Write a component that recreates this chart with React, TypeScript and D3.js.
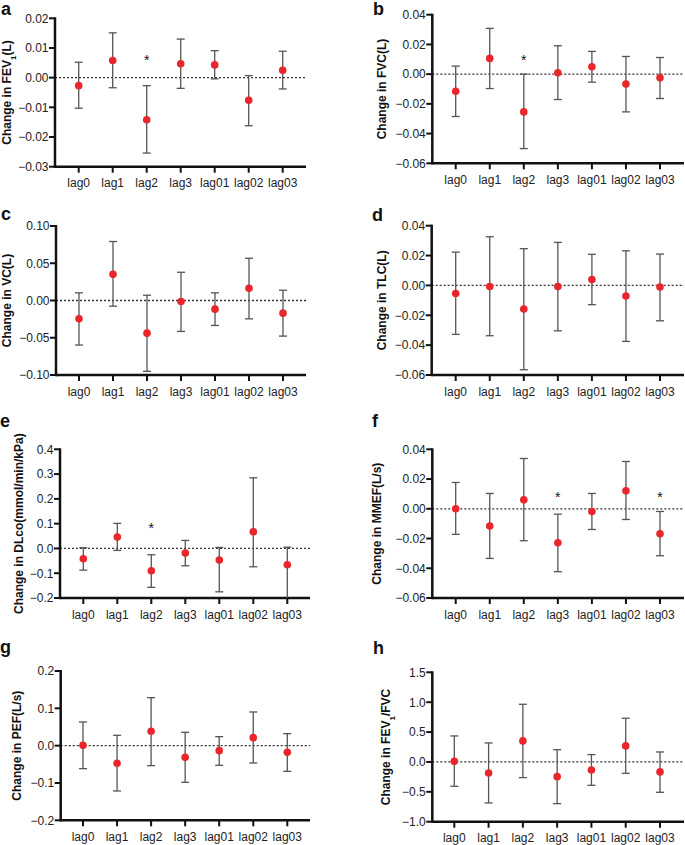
import React from "react";
import * as d3 from "d3";

const categories = ["lag0", "lag1", "lag2", "lag3", "lag01", "lag02", "lag03"];

// a: FEV1
const fev1Est = [-0.0027, 0.0058, -0.0142, 0.0047, 0.0043, -0.0076, 0.0025];
const fev1Lo = [-0.0103, -0.0034, -0.0254, -0.0036, -0.0004, -0.0162, -0.0038];
const fev1Hi = [0.0052, 0.0151, -0.0027, 0.013, 0.0091, 0.0007, 0.0089];
const fev1Stars = [null, null, 0.007, null, null, null, null];
const fev1Ticks = [-0.03, -0.02, -0.01, 0.0, 0.01, 0.02];

// b: FVC
const fvcEst = [-0.0115, 0.0106, -0.0254, 0.0009, 0.0049, -0.0067, -0.0025];
const fvcLo = [-0.0285, -0.0097, -0.0501, -0.0171, -0.0054, -0.0254, -0.0164];
const fvcHi = [0.0054, 0.0308, 0.0, 0.0191, 0.0153, 0.0119, 0.0112];
const fvcStars = [null, null, 0.0117, null, null, null, null];
const fvcTicks = [-0.06, -0.04, -0.02, 0.0, 0.02, 0.04];

// c: VC
const vcEst = [-0.0246, 0.0353, -0.0438, -0.0013, -0.0116, 0.0165, -0.017];
const vcLo = [-0.0598, -0.0076, -0.0951, -0.0415, -0.0335, -0.0246, -0.0478];
const vcHi = [0.0103, 0.0792, 0.0071, 0.0379, 0.0103, 0.0567, 0.0138];
const vcStars = [null, null, null, null, null, null, null];
const vcTicks = [-0.1, -0.05, 0.0, 0.05, 0.1];

// d: TLC
const tlcEst = [-0.0054, -0.0007, -0.0158, -0.0007, 0.004, -0.0071, -0.0011];
const tlcLo = [-0.0328, -0.0337, -0.0565, -0.0304, -0.0129, -0.0375, -0.0237];
const tlcHi = [0.0223, 0.0326, 0.0246, 0.0288, 0.0208, 0.0232, 0.021];
const tlcStars = [null, null, null, null, null, null, null];
const tlcTicks = [-0.06, -0.04, -0.02, 0.0, 0.02, 0.04];

// e: DLco
const dlcoEst = [-0.0417, 0.0458, -0.09, -0.0188, -0.0471, 0.0673, -0.066];
const dlcoLo = [-0.0875, -0.008, -0.157, -0.07, -0.175, -0.074, -0.23];
const dlcoHi = [0.003, 0.101, -0.0256, 0.0323, 0.004, 0.285, 0.005];
const dlcoStars = [null, null, 0.093, null, null, null, null];
const dlcoTicks = [-0.2, -0.1, 0.0, 0.1, 0.2, 0.3, 0.4];

// f: MMEF
const mmefEst = [0.0, -0.0116, 0.006, -0.0228, -0.0018, 0.0121, -0.0168];
const mmefLo = [-0.0172, -0.0334, -0.0215, -0.0423, -0.0139, -0.0072, -0.0316];
const mmefHi = [0.0177, 0.0103, 0.0338, -0.0036, 0.0103, 0.0318, -0.0018];
const mmefStars = [null, null, null, 0.0099, null, null, 0.0099];
const mmefTicks = [-0.06, -0.04, -0.02, 0.0, 0.02, 0.04];

// g: PEF
const pefEst = [0.001, -0.0473, 0.0384, -0.0313, -0.0134, 0.0214, -0.0179];
const pefLo = [-0.0616, -0.1214, -0.0536, -0.0982, -0.0527, -0.0464, -0.0688];
const pefHi = [0.0634, 0.0277, 0.1286, 0.0357, 0.0241, 0.0902, 0.0321];
const pefStars = [null, null, null, null, null, null, null];
const pefTicks = [-0.2, -0.1, 0.0, 0.1, 0.2];

// h: FEV1/FVC
const ratioEst = [0.011, -0.184, 0.352, -0.246, -0.134, 0.268, -0.167];
const ratioLo = [-0.407, -0.686, -0.262, -0.698, -0.391, -0.19, -0.508];
const ratioHi = [0.435, 0.318, 0.965, 0.206, 0.123, 0.731, 0.167];
const ratioStars = [null, null, null, null, null, null, null];
const ratioTicks = [-1.0, -0.5, 0.0, 0.5, 1.0, 1.5];

type Panel = {
  letter: string;
  title: React.ReactNode;
  est: number[];
  lo: number[];
  hi: number[];
  stars: (number | null)[];
  ticks: number[];
  fmt: string;
  // layout
  axisX: number;
  yTop: number;
  yBottom: number;
  xEnd: number;
  cx0: number;
  cx1: number;
  titleX: number;
  labelX: number;
  labelY: number;
};

const sub1 = (
  <tspan baselineShift="sub" fontSize="8">1</tspan>
);

const panels: Panel[] = [
  {
    letter: "a",
    title: (<>Change in FEV{sub1}<tspan>(L)</tspan></>),
    est: fev1Est, lo: fev1Lo, hi: fev1Hi, stars: fev1Stars, ticks: fev1Ticks, fmt: ".2f",
    axisX: 55, yTop: 18.3, yBottom: 166.7, xEnd: 306, cx0: 78.7, cx1: 282.7,
    titleX: 10.5, labelX: 1, labelY: 15,
  },
  {
    letter: "b",
    title: "Change in FVC(L)",
    est: fvcEst, lo: fvcLo, hi: fvcHi, stars: fvcStars, ticks: fvcTicks, fmt: ".2f",
    axisX: 432.3, yTop: 14.7, yBottom: 163.3, xEnd: 684, cx0: 455.7, cx1: 660,
    titleX: 386, labelX: 373, labelY: 15,
  },
  {
    letter: "c",
    title: "Change in VC(L)",
    est: vcEst, lo: vcLo, hi: vcHi, stars: vcStars, ticks: vcTicks, fmt: ".2f",
    axisX: 56, yTop: 226, yBottom: 375, xEnd: 306, cx0: 79, cx1: 283,
    titleX: 10.5, labelX: 1, labelY: 220,
  },
  {
    letter: "d",
    title: "Change in TLC(L)",
    est: tlcEst, lo: tlcLo, hi: tlcHi, stars: tlcStars, ticks: tlcTicks, fmt: ".2f",
    axisX: 431.7, yTop: 225.7, yBottom: 375, xEnd: 684, cx0: 455.7, cx1: 660,
    titleX: 386, labelX: 372, labelY: 221,
  },
  {
    letter: "e",
    title: "Change in DLco(mmol/min/kPa)",
    est: dlcoEst, lo: dlcoLo, hi: dlcoHi, stars: dlcoStars, ticks: dlcoTicks, fmt: ".1f",
    axisX: 60, yTop: 449.3, yBottom: 598, xEnd: 310, cx0: 83.3, cx1: 287.3,
    titleX: 22.5, labelX: 0, labelY: 427,
  },
  {
    letter: "f",
    title: "Change in MMEF(L/s)",
    est: mmefEst, lo: mmefLo, hi: mmefHi, stars: mmefStars, ticks: mmefTicks, fmt: ".2f",
    axisX: 432.3, yTop: 449.3, yBottom: 598, xEnd: 684, cx0: 455.7, cx1: 660,
    titleX: 381, labelX: 372, labelY: 427,
  },
  {
    letter: "g",
    title: "Change in PEF(L/s)",
    est: pefEst, lo: pefLo, hi: pefHi, stars: pefStars, ticks: pefTicks, fmt: ".1f",
    axisX: 60.7, yTop: 671, yBottom: 820.3, xEnd: 310, cx0: 83, cx1: 287.3,
    titleX: 21, labelX: 0, labelY: 653,
  },
  {
    letter: "h",
    title: (<>Change in FEV{sub1}<tspan>/FVC</tspan></>),
    est: ratioEst, lo: ratioLo, hi: ratioHi, stars: ratioStars, ticks: ratioTicks, fmt: ".1f",
    axisX: 432.3, yTop: 672.3, yBottom: 821.7, xEnd: 684, cx0: 454.3, cx1: 660,
    titleX: 389.5, labelX: 373, labelY: 654,
  },
];

const FONT = "'Liberation Sans', Arial, Helvetica, sans-serif";

function PanelView({ p }: { p: Panel }) {
  const domain: [number, number] = [p.ticks[0], p.ticks[p.ticks.length - 1]];
  const y = d3.scaleLinear().domain(domain).range([p.yBottom, p.yTop]);
  const x = d3.scalePoint<string>().domain(categories).range([p.cx0, p.cx1]);
  const fmt = d3.format(p.fmt);
  const cap = 4;
  const yMid = (p.yTop + p.yBottom) / 2;
  return (
    <g fontFamily={FONT}>
      <text x={p.labelX} y={p.labelY} fontSize={18} fontWeight="bold" fill="#111">
        {p.letter}
      </text>
      <text
        transform={`translate(${p.titleX},${yMid}) rotate(-90)`}
        textAnchor="middle"
        fontSize={12}
        fontWeight="bold"
        fill="#111"
      >
        {p.title}
      </text>
      {/* zero line */}
      <line
        x1={p.axisX}
        x2={p.xEnd}
        y1={y(0)}
        y2={y(0)}
        stroke="#333"
        strokeWidth={1.3}
        strokeDasharray="2,2"
      />
      {/* y ticks */}
      {p.ticks.map((t, i) => (
        <g key={"yt" + i}>
          <line x1={p.axisX - 6} x2={p.axisX} y1={y(t)} y2={y(t)} stroke="#111" strokeWidth={2} />
          <text
            x={p.axisX - 6.5}
            y={y(t)}
            dy="0.36em"
            textAnchor="end"
            fontSize={12}
            fill="#222"
          >
            {fmt(t).replace("-", "-")}
          </text>
        </g>
      ))}
      {/* x ticks */}
      {categories.map((c) => (
        <g key={"xt" + c}>
          <line x1={x(c)} x2={x(c)} y1={p.yBottom} y2={p.yBottom + 6} stroke="#111" strokeWidth={2} />
          <text x={x(c)} y={p.yBottom + 20.5} textAnchor="middle" fontSize={12} fill="#222">
            {c}
          </text>
        </g>
      ))}
      {/* axes */}
      <line x1={p.axisX} x2={p.axisX} y1={p.yTop - 1} y2={p.yBottom + 1.2} stroke="#111" strokeWidth={2.5} />
      <line x1={p.axisX} x2={p.xEnd} y1={p.yBottom} y2={p.yBottom} stroke="#111" strokeWidth={2.5} />
      {/* error bars */}
      {categories.map((c, i) => {
        const cx = x(c) as number;
        const loV = Math.max(p.lo[i], domain[0]);
        const hiV = Math.min(p.hi[i], domain[1]);
        const loVisible = p.lo[i] >= domain[0];
        return (
          <g key={"eb" + c} stroke="#555" strokeWidth={1.3}>
            <line x1={cx} x2={cx} y1={y(loV)} y2={y(hiV)} />
            <line x1={cx - cap} x2={cx + cap} y1={y(hiV)} y2={y(hiV)} />
            {loVisible && <line x1={cx - cap} x2={cx + cap} y1={y(loV)} y2={y(loV)} />}
          </g>
        );
      })}
      {/* points */}
      {categories.map((c, i) => (
        <circle key={"pt" + c} cx={x(c)} cy={y(p.est[i])} r={3.8} fill="#e8262b" />
      ))}
      {/* significance stars */}
      {categories.map((c, i) =>
        p.stars[i] == null ? null : (
          <text
            key={"st" + c}
            x={x(c)}
            y={y(p.stars[i] as number) + 8}
            textAnchor="middle"
            fontSize={14}
            fill="#111"
          >
            *
          </text>
        )
      )}
    </g>
  );
}

export default function App() {
  return (
    <svg
      width={685}
      height={845}
      viewBox="0 0 685 845"
      style={{ position: "absolute", left: 0, top: 0, background: "#fff" }}
    >
      <rect x={0} y={0} width={685} height={845} fill="#fff" />
      {panels.map((p) => (
        <PanelView key={p.letter} p={p} />
      ))}
    </svg>
  );
}
